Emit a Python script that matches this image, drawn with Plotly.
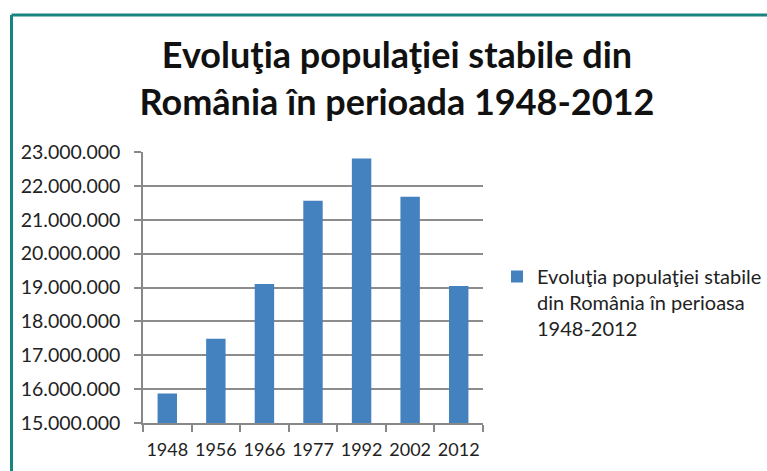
import plotly.graph_objects as go

years = ["1948", "1956", "1966", "1977", "1992", "2002", "2012"]
population = [15872624, 17489450, 19103163, 21559910, 22810035, 21680974, 19042936]
series_name = "Evoluţia populaţiei stabile<br>din România în perioasa<br>1948-2012"
title_text = "Evoluţia populaţiei stabile din<br>România în perioada 1948-2012"

FONT = "Lato"
W, H = 767, 471
L, R, T, B = 143, 284, 152, 48
pw, ph = W - L - R, H - T - B

def px_x(x):
    return (x - L) / pw

def px_y(y):
    return (H - B - y) / ph

fig = go.Figure()
fig.add_trace(go.Bar(
    x=years, y=population, name=series_name,
    marker=dict(color="#4481bf", line=dict(width=0)),
    width=0.4, showlegend=True,
))

teal = "#17847f"
shapes = [
    dict(type="line", xref="paper", yref="paper", x0=px_x(11.5), x1=px_x(800), y0=px_y(15), y1=px_y(15),
         line=dict(color=teal, width=3)),
    dict(type="line", xref="paper", yref="paper", x0=px_x(11.5), x1=px_x(11.5), y0=px_y(15), y1=px_y(500),
         line=dict(color=teal, width=3)),
]

fig.update_layout(
    width=W, height=H,
    margin=dict(l=L, r=R, t=T, b=B, pad=0, autoexpand=False),
    paper_bgcolor="white", plot_bgcolor="white",
    separators=",.",
    font=dict(family=FONT, color="#222222", size=18),
    title=dict(text=title_text, x=px_x(397), xanchor="center", xref="paper",
               y=1 - 68 / H, yanchor="middle", automargin=False,
               font=dict(family=FONT, size=36, color="#111111", weight="bold")),
    bargap=0.6,
    xaxis=dict(type="category", showline=True, linecolor="#888888", linewidth=1.5,
               ticks="outside", tickson="boundaries", ticklen=7, tickcolor="#888888", tickwidth=1.5,
               tickfont=dict(size=18), tickangle=0, ticklabelstandoff=10,
               showgrid=False, automargin=False),
    yaxis=dict(range=[15000000, 23000000], dtick=1000000, tickformat=",d",
               showgrid=True, gridcolor="#8c8c8c", gridwidth=1.5,
               showline=True, linecolor="#888888", linewidth=1.5,
               ticks="outside", ticklen=7, tickcolor="#888888", tickwidth=1.5,
               tickfont=dict(size=19.5), ticklabelstandoff=10, zeroline=False, automargin=False),
    legend=dict(x=px_x(497), xanchor="left", y=px_y(257), yanchor="top", valign="top",
                font=dict(size=20), bgcolor="rgba(0,0,0,0)", itemwidth=30),
    shapes=shapes,
)

fig.write_html("out.html")
